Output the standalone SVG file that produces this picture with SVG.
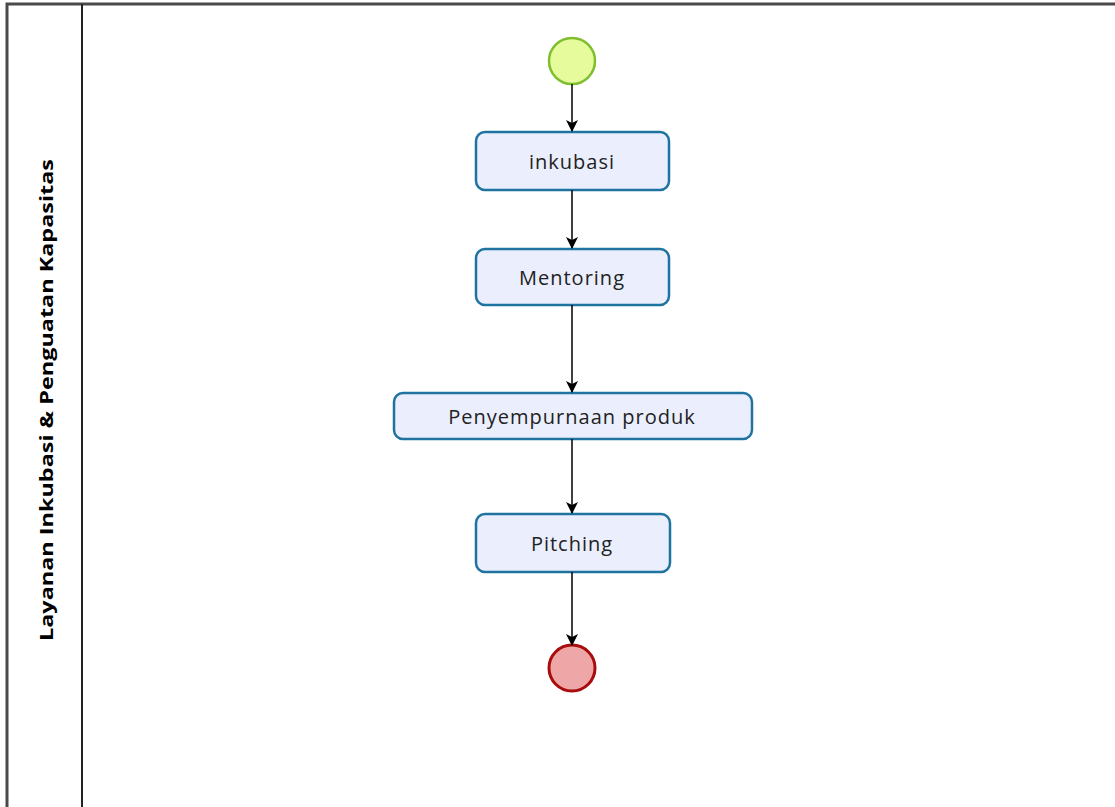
<svg xmlns="http://www.w3.org/2000/svg" width="1115" height="807" viewBox="0 0 1115 807">
<defs>
<marker id="arr" viewBox="0 0 12 12" refX="11" refY="6" markerWidth="12" markerHeight="12" markerUnits="userSpaceOnUse" orient="auto">
<path d="M0,0 L12,6 L0,12 L3,6 Z" fill="#000"/>
</marker>
</defs>
<style>
.task rect{fill:#eaeefd;stroke:#1e73a0;stroke-width:2.5}
.task text{font-family:"Open Sans","DejaVu Sans",sans-serif;font-size:20px;letter-spacing:1px;fill:#222;text-anchor:middle;dominant-baseline:central}
.conn line{stroke:#000;stroke-width:1.5;marker-end:url(#arr)}
</style>
<rect width="1115" height="807" fill="#fff"/>
<g id="pool">
<path d="M7,807 V4 H1115" fill="none" stroke="#4a4a4a" stroke-width="3"/>
<line x1="82" y1="4" x2="82" y2="807" stroke="#222" stroke-width="2"/>
<text transform="translate(46,400) rotate(-90)" text-anchor="middle" dominant-baseline="central" font-family="Open Sans, DejaVu Sans, sans-serif" font-weight="bold" font-size="18" textLength="482" lengthAdjust="spacingAndGlyphs" fill="#000">Layanan Inkubasi &amp; Penguatan Kapasitas</text>
</g>
<g id="start"><circle cx="572" cy="61" r="23" fill="#e6fb9c" stroke="#7fbe2c" stroke-width="2.5"/></g>
<g id="inkubasi" class="task"><rect x="476" y="132" width="193" height="58" rx="9"/><text x="572" y="161">inkubasi</text></g>
<g id="mentoring" class="task"><rect x="476" y="249" width="193" height="56" rx="9"/><text x="572" y="277">Mentoring</text></g>
<g id="penyempurnaan" class="task"><rect x="394" y="393" width="358" height="46" rx="9"/><text x="572" y="416">Penyempurnaan produk</text></g>
<g id="pitching" class="task"><rect x="476" y="514" width="194" height="58" rx="9"/><text x="572" y="543">Pitching</text></g>
<g id="end"><circle cx="572" cy="668" r="23" fill="#eea6a6" stroke="#a80c0c" stroke-width="3"/></g>
<g id="connectors" class="conn">
<line x1="572" y1="84" x2="572" y2="131"/>
<line x1="572" y1="190" x2="572" y2="248"/>
<line x1="572" y1="305" x2="572" y2="392"/>
<line x1="572" y1="439" x2="572" y2="513"/>
<line x1="572" y1="572" x2="572" y2="645"/>
</g>
</svg>
